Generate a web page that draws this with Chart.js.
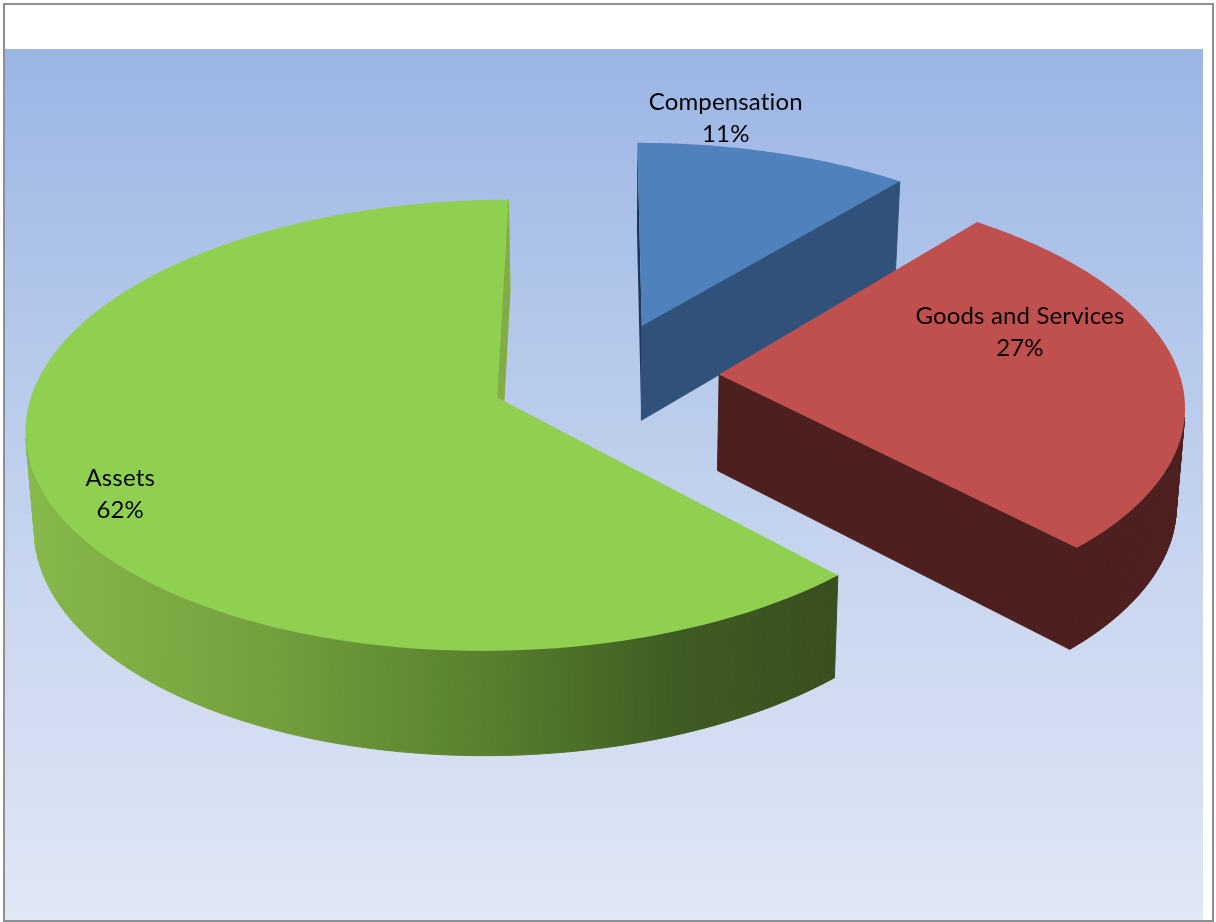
<!DOCTYPE html>
<html>
<head>
<meta charset="utf-8">
<title>Budget split</title>
<script src="https://cdn.jsdelivr.net/npm/chart.js@4"></script>
<style>
    html, body { margin: 0; padding: 0; background: #fff; }
    #frame {
        position: absolute; left: 3px; top: 3px; width: 1207px; height: 915px;
        border: 2px solid #8f8f8f; background: #fff;
    }
    #plot {
        position: absolute; left: 0; top: 44px; width: 1198px; height: 871px;
        background: linear-gradient(to bottom, #9bb5e4 0%, #b6c9eb 35%, #cbd8f0 65%, #e0e7f5 100%);
    }
    canvas { position: absolute; left: 0; top: 0; }
</style>
</head>
<body>
<div id="frame"><div id="plot"></div></div>
<canvas id="spendingChart" width="1216" height="922"></canvas>
<script>
const categories = ['Compensation', 'Goods and Services', 'Assets'];
const shares = [11, 27, 62];

const topColors = ['#4f81bd', '#c0504d', '#90d050'];
const startWallColors = ['#1d3857', '#4e1f1f', '#82ad45'];
const endWallColors = ['#30527a', '#4e1f1f', '#82ad45'];
const rimColors = ['#30527a', '#4e1f1f', null];
const assetsRimStops = [[0, '#86b84b'], [0.3, '#739f3c'], [0.55, '#5a822f'], [0.8, '#3f5c22'], [1, '#394f1e']];

// how far each slice is pulled out of the pie, and the lean of that pull in degrees
const explode = [115, 96, 135];
const explodeLean = [-10.5, -1.5, 3];
// where the labels sit: fraction along the slice's sweep, fraction of the radius
const labelSweep = [0.28, 0.348, 0.468];
const labelReach = [1.175, 0.705, 0.862];

const PIE_RADIUS = 467;
const TILT = 0.477;       // vertical squash of the pie plane
const PERSPECTIVE = 0.000265;
const PLANE_U = 25, PLANE_V = -48.5, ORIGIN_Y = 23;
const STEPS = 120;

// pie plane (relative to chart centre) to canvas
function project(cx, cy, u, v) {
    const w = 1 - PERSPECTIVE * (v + PLANE_V);
    return { x: cx - PLANE_U + (u + PLANE_U) / w, y: cy + ORIGIN_Y + TILT * (v + PLANE_V) / w };
}

// same point on the underside of the pie
function drop(p) {
    return { x: 610 + (p.x - 610) * 0.985, y: p.y + 84 + 0.032 * p.y };
}

// >0 when the face running a -> b, hanging down from that edge, has its back to the viewer
function faceSide(a, b) {
    const low = drop(b);
    return (b.x - a.x) * (low.y - b.y) - (b.y - a.y) * (low.x - b.x);
}

// the thin outline of the same fill closes the hairline seams between neighbouring faces
function fillPath(ctx, points, fill, seal) {
    ctx.beginPath();
    points.forEach(function (p, i) {
        if (i === 0) ctx.moveTo(p.x, p.y);
        else ctx.lineTo(p.x, p.y);
    });
    ctx.closePath();
    ctx.fillStyle = fill;
    ctx.fill();
    if (seal) {
        ctx.strokeStyle = fill;
        ctx.lineWidth = 1;
        ctx.stroke();
    }
}

class Arc3dElement extends Chart.ArcElement {
    static id = 'arc3d';

    pointOnSlice(angle, radius) {
        const { x, y, startAngle, endAngle } = this.getProps(['x', 'y', 'startAngle', 'endAngle']);
        const i = this.$context.dataIndex;
        const pull = (startAngle + endAngle) / 2 + explodeLean[i] * Math.PI / 180;
        const u = Math.cos(pull) * explode[i] + Math.cos(angle) * radius;
        const v = Math.sin(pull) * explode[i] + Math.sin(angle) * radius;
        return project(x, y, u, v);
    }

    labelPoint() {
        const { startAngle, endAngle, outerRadius } = this.getProps(['startAngle', 'endAngle', 'outerRadius']);
        const i = this.$context.dataIndex;
        return this.pointOnSlice(startAngle + (endAngle - startAngle) * labelSweep[i], outerRadius * labelReach[i]);
    }

    draw(ctx) {
        const { startAngle, endAngle, outerRadius } = this.getProps(['startAngle', 'endAngle', 'outerRadius']);
        const i = this.$context.dataIndex;
        const apex = this.pointOnSlice(startAngle, 0);
        const edge = [];
        for (let s = 0; s <= STEPS; s++) {
            edge.push(this.pointOnSlice(startAngle + (endAngle - startAngle) * s / STEPS, outerRadius));
        }
        const first = edge[0];
        const last = edge[edge.length - 1];

        // outer rim, strip by strip, front-facing strips only
        let rimFill = rimColors[i];
        if (!rimFill) {
            rimFill = ctx.createLinearGradient(30, 0, 836, 0);
            assetsRimStops.forEach(function (stop) { rimFill.addColorStop(stop[0], stop[1]); });
        }
        for (let s = 0; s < STEPS; s++) {
            if (faceSide(edge[s], edge[s + 1]) < 0) {
                fillPath(ctx, [edge[s], edge[s + 1], drop(edge[s + 1]), drop(edge[s])], rimFill, true);
            }
        }

        // the two cut faces, only when they turn toward the viewer
        if (faceSide(apex, first) < 0) {
            fillPath(ctx, [apex, first, drop(first), drop(apex)], startWallColors[i], false);
        }
        if (faceSide(apex, last) > 0) {
            fillPath(ctx, [apex, last, drop(last), drop(apex)], endWallColors[i], true);
        }

        fillPath(ctx, [apex].concat(edge), topColors[i], false);
    }
}

class Pie3dController extends Chart.PieController {
    static id = 'pie3d';
    static defaults = { ...Chart.PieController.defaults, dataElementType: 'arc3d' };
    static overrides = Chart.PieController.overrides;
}

Chart.register(Arc3dElement, Pie3dController);

const sliceLabels = {
    id: 'sliceLabels',
    afterDatasetsDraw(chart) {
        const ctx = chart.ctx;
        const total = shares.reduce(function (a, b) { return a + b; }, 0);
        ctx.save();
        ctx.font = '24px Lato';
        ctx.letterSpacing = '0.15px';
        ctx.fillStyle = '#000';
        ctx.textAlign = 'center';
        ctx.textBaseline = 'middle';
        chart.getDatasetMeta(0).data.forEach(function (arc, i) {
            const p = arc.labelPoint();
            ctx.fillText(categories[i], p.x, p.y - 16);
            ctx.fillText(Math.round(shares[i] / total * 100) + '%', p.x, p.y + 16);
        });
        ctx.restore();
    }
};

new Chart(document.getElementById('spendingChart').getContext('2d'), {
    type: 'pie3d',
    data: {
        labels: categories,
        datasets: [{
            data: shares,
            backgroundColor: topColors,
            borderWidth: 0,
            hoverOffset: 0,
            clip: false
        }]
    },
    plugins: [sliceLabels],
    options: {
        responsive: false,
        animation: false,
        radius: PIE_RADIUS,
        events: [],
        layout: { padding: { left: 34, bottom: 168 } },
        plugins: {
            legend: { display: false },
            title: { display: false },
            tooltip: { enabled: false }
        }
    }
});
</script>
</body>
</html>
